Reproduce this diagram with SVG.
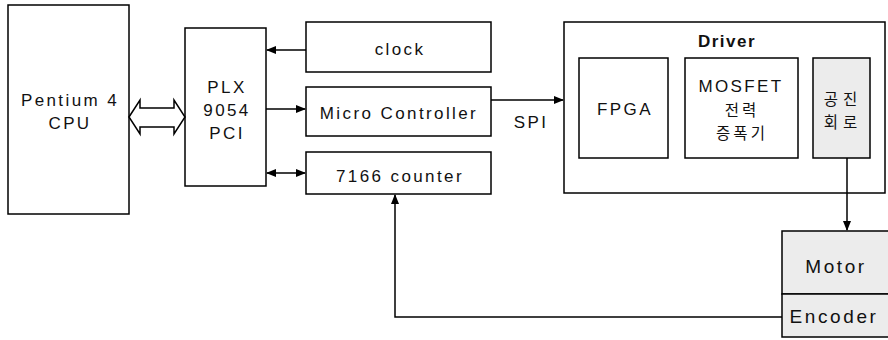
<svg xmlns="http://www.w3.org/2000/svg" width="888" height="340" viewBox="0 0 888 340">
<defs>
<marker id="ah" markerWidth="10" markerHeight="8" refX="9" refY="4" orient="auto-start-reverse" markerUnits="userSpaceOnUse">
<path d="M0,0 L10,4 L0,8 Z" fill="#000"/>
</marker>
<style>
.box{fill:#fff;stroke:#000;stroke-width:1.5}
.gray{fill:#ececec;stroke:#000;stroke-width:1.5}
.t{font-family:"Liberation Sans",Arial,"Noto Sans CJK KR",sans-serif;font-size:17px;letter-spacing:2.4px;text-anchor:middle;fill:#111}
.k{font-family:"Noto Sans CJK KR","Liberation Sans",sans-serif;font-size:15.5px;letter-spacing:3px;text-anchor:middle;fill:#111}
.c{fill:none;stroke:#000;stroke-width:1.5}
</style>
</defs>
<rect width="888" height="340" fill="#fff"/>
<g id="cpu">
<rect class="box" x="8" y="5" width="121" height="209"/>
<text class="t" x="70" y="106">Pentium 4</text>
<text class="t" x="70" y="129">CPU</text>
</g>
<g id="plx">
<rect class="box" x="185" y="28" width="81" height="158"/>
<text class="t" x="227" y="93">PLX</text>
<text class="t" x="227" y="116">9054</text>
<text class="t" x="227" y="139">PCI</text>
</g>
<g id="clock">
<rect class="box" x="306" y="22" width="185" height="50"/>
<text class="t" x="400" y="55">clock</text>
</g>
<g id="micro">
<rect class="box" x="306" y="87" width="185" height="49"/>
<text class="t" x="399" y="119">Micro Controller</text>
</g>
<g id="counter">
<rect class="box" x="306" y="152" width="185" height="42"/>
<text class="t" x="400" y="182">7166 counter</text>
</g>
<g id="driver">
<rect class="box" x="564" y="22" width="321" height="171"/>
<text class="t" x="727" y="47" style="font-weight:bold;letter-spacing:1.5px">Driver</text>
</g>
<g id="fpga">
<rect class="box" x="579" y="58" width="89" height="100"/>
<text class="t" x="625" y="115">FPGA</text>
</g>
<g id="mosfet">
<rect class="box" x="685" y="58" width="113" height="100"/>
<text class="t" x="741" y="92">MOSFET</text>
<text class="k" x="742" y="116">전력</text>
<text class="k" x="742" y="139">증폭기</text>
</g>
<g id="resonance">
<rect class="gray" x="813" y="58" width="57" height="100"/>
<text class="k" x="843" y="105" style="letter-spacing:5px">공진</text>
<text class="k" x="843" y="128" style="letter-spacing:5px">회로</text>
</g>
<g id="motor">
<rect class="gray" x="782" y="231" width="110" height="63"/>
<text class="t" x="836" y="273" style="font-size:19px;letter-spacing:2.6px">Motor</text>
</g>
<g id="encoder">
<rect class="gray" x="782" y="294" width="110" height="43"/>
<text class="t" x="834" y="323" style="font-size:19px;letter-spacing:2.6px">Encoder</text>
</g>
<g id="connectors">
<path class="c" d="M129,117 L140,100 L140,108 L174,108 L174,100 L185,117 L174,134 L174,127 L140,127 L140,134 Z" fill="#fff"/>
<line class="c" x1="306" y1="50" x2="267" y2="50" marker-end="url(#ah)"/>
<line class="c" x1="266" y1="109" x2="305" y2="109" marker-end="url(#ah)"/>
<line class="c" x1="267" y1="173" x2="305" y2="173" marker-start="url(#ah)" marker-end="url(#ah)"/>
<line class="c" x1="491" y1="100" x2="563" y2="100" marker-end="url(#ah)"/>
<text class="t" x="531" y="128">SPI</text>
<line class="c" x1="847" y1="158" x2="847" y2="230" marker-end="url(#ah)"/>
<polyline class="c" points="782,317 395,317 395,195" marker-end="url(#ah)"/>
</g>
</svg>
